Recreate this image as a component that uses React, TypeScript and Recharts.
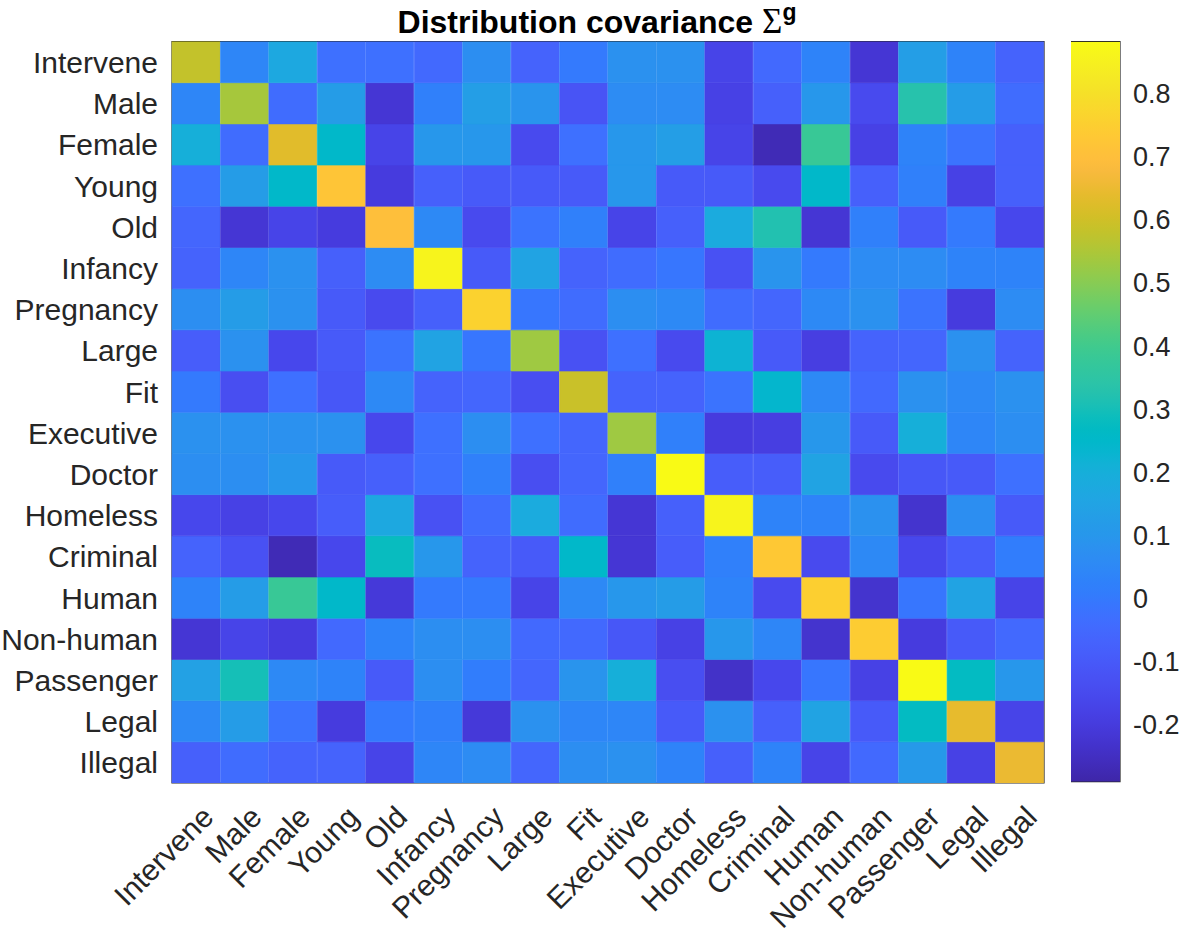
import React from 'react';
import { BarChart, Bar, XAxis, YAxis, Cell, ReferenceArea } from 'recharts';

const labels = ['Intervene', 'Male', 'Female', 'Young', 'Old', 'Infancy', 'Pregnancy', 'Large', 'Fit', 'Executive', 'Doctor', 'Homeless', 'Criminal', 'Human', 'Non-human', 'Passenger', 'Legal', 'Illegal'];

const rowIntervene = [0.58, 0.04, 0.17, -0.03, -0.03, -0.05, 0.07, -0.07, 0.0, 0.08, 0.08, -0.17, -0.05, 0.03, -0.22, 0.13, 0.03, -0.07];
const rowMale = [0.04, 0.54, -0.04, 0.12, -0.22, 0.02, 0.13, 0.09, -0.12, 0.06, 0.06, -0.18, -0.08, 0.1, -0.15, 0.33, 0.12, -0.04];
const rowFemale = [0.2, -0.04, 0.63, 0.25, -0.17, 0.1, 0.1, -0.15, -0.03, 0.1, 0.13, -0.17, -0.27, 0.38, -0.18, 0.03, -0.02, -0.08];
const rowYoung = [-0.03, 0.12, 0.25, 0.72, -0.2, -0.08, -0.1, -0.1, -0.1, 0.1, -0.1, -0.1, -0.15, 0.25, -0.08, 0.02, -0.18, -0.08];
const rowOld = [-0.06, -0.22, -0.17, -0.2, 0.7, 0.05, -0.15, -0.02, 0.02, -0.17, -0.08, 0.18, 0.32, -0.22, 0.02, -0.1, 0.0, -0.16];
const rowInfancy = [-0.07, 0.04, 0.08, -0.08, 0.06, 0.86, -0.1, 0.15, -0.07, -0.04, -0.01, -0.13, 0.09, 0.0, 0.06, 0.06, 0.03, 0.03];
const rowPregnancy = [0.07, 0.12, 0.08, -0.1, -0.15, -0.08, 0.76, -0.01, -0.04, 0.07, 0.05, -0.04, -0.06, 0.05, 0.08, -0.02, -0.2, 0.06];
const rowLarge = [-0.09, 0.08, -0.16, -0.1, -0.02, 0.15, -0.01, 0.53, -0.13, -0.03, -0.15, 0.22, -0.1, -0.19, -0.07, -0.06, 0.08, -0.07];
const rowFit = [0.0, -0.14, -0.03, -0.11, 0.05, -0.07, -0.06, -0.14, 0.59, -0.07, -0.07, -0.02, 0.24, 0.05, -0.05, 0.08, 0.05, 0.08];
const rowExecutive = [0.08, 0.08, 0.08, 0.08, -0.16, -0.03, 0.07, -0.03, -0.06, 0.53, 0.02, -0.2, -0.19, 0.1, -0.1, 0.2, 0.04, 0.07];
const rowDoctor = [0.07, 0.07, 0.1, -0.1, -0.08, -0.03, 0.02, -0.14, -0.06, 0.02, 0.88, -0.09, -0.09, 0.15, -0.15, -0.11, -0.1, -0.03];
const rowHomeless = [-0.16, -0.18, -0.16, -0.09, 0.17, -0.13, -0.04, 0.18, -0.04, -0.22, -0.08, 0.86, 0.03, 0.03, 0.08, -0.23, 0.07, -0.1];
const rowCriminal = [-0.07, -0.13, -0.27, -0.16, 0.28, 0.1, -0.07, -0.1, 0.25, -0.22, -0.09, 0.02, 0.73, -0.15, 0.05, -0.16, -0.09, 0.01];
const rowHuman = [0.03, 0.12, 0.38, 0.25, -0.21, 0.0, 0.0, -0.17, 0.05, 0.1, 0.12, 0.03, -0.15, 0.75, -0.23, -0.01, 0.15, -0.17];
const rowNonHuman = [-0.22, -0.17, -0.2, -0.05, 0.03, 0.07, 0.07, -0.05, -0.05, -0.11, -0.18, 0.1, 0.04, -0.23, 0.74, -0.2, -0.1, -0.05];
const rowPassenger = [0.14, 0.3, 0.05, 0.03, -0.1, 0.07, 0.01, -0.06, 0.09, 0.2, -0.14, -0.24, -0.16, -0.01, -0.18, 0.88, 0.27, 0.1];
const rowLegal = [0.05, 0.12, -0.02, -0.2, 0.0, 0.02, -0.21, 0.08, 0.04, 0.04, -0.1, 0.08, -0.08, 0.15, -0.1, 0.27, 0.64, -0.17];
const rowIllegal = [-0.08, -0.04, -0.07, -0.07, -0.17, 0.04, 0.06, -0.06, 0.07, 0.08, 0.03, -0.08, 0.03, -0.17, -0.05, 0.11, -0.18, 0.65];

const matrix = [rowIntervene, rowMale, rowFemale, rowYoung, rowOld, rowInfancy, rowPregnancy, rowLarge, rowFit, rowExecutive, rowDoctor, rowHomeless, rowCriminal, rowHuman, rowNonHuman, rowPassenger, rowLegal, rowIllegal];

const cbMin = -0.292;
const cbMax = 0.882;
const cbTicks = [-0.2, -0.1, 0, 0.1, 0.2, 0.3, 0.4, 0.5, 0.6, 0.7, 0.8];

const PARULA: number[][] = [
  [0.2422, 0.1504, 0.6603], [0.2504, 0.165, 0.7076], [0.2578, 0.1818, 0.7511], [0.2647, 0.1978, 0.7952],
  [0.2706, 0.2147, 0.8364], [0.2751, 0.2342, 0.871], [0.2783, 0.2559, 0.8991], [0.2803, 0.2782, 0.9221],
  [0.2813, 0.3006, 0.9414], [0.281, 0.3228, 0.9579], [0.2795, 0.3447, 0.9717], [0.276, 0.3667, 0.9829],
  [0.2699, 0.3892, 0.9906], [0.2602, 0.4123, 0.9952], [0.244, 0.4358, 0.9988], [0.2206, 0.4603, 0.9973],
  [0.1963, 0.4847, 0.9892], [0.1834, 0.5074, 0.9798], [0.1786, 0.5289, 0.9682], [0.1764, 0.5499, 0.952],
  [0.1687, 0.5703, 0.9359], [0.154, 0.5902, 0.9218], [0.146, 0.6091, 0.9079], [0.138, 0.6276, 0.8973],
  [0.1248, 0.6459, 0.8883], [0.1113, 0.6635, 0.8763], [0.0952, 0.6798, 0.8598], [0.0689, 0.6948, 0.8394],
  [0.0297, 0.7082, 0.8163], [0.0036, 0.7203, 0.7917], [0.0067, 0.7312, 0.766], [0.0433, 0.7411, 0.7394],
  [0.0964, 0.75, 0.712], [0.1408, 0.7584, 0.6842], [0.1717, 0.767, 0.6554], [0.1938, 0.7758, 0.6251],
  [0.2161, 0.7843, 0.5923], [0.247, 0.7918, 0.5567], [0.2906, 0.7973, 0.5188], [0.3406, 0.8008, 0.4789],
  [0.3909, 0.8029, 0.4354], [0.4456, 0.8024, 0.3909], [0.5044, 0.7993, 0.348], [0.5616, 0.7942, 0.3045],
  [0.6174, 0.7876, 0.2612], [0.672, 0.7793, 0.2227], [0.7242, 0.7698, 0.191], [0.7738, 0.7598, 0.1646],
  [0.8203, 0.7498, 0.1535], [0.8634, 0.7406, 0.1596], [0.9035, 0.733, 0.1774], [0.9393, 0.7288, 0.21],
  [0.9728, 0.7298, 0.2394], [0.9956, 0.7434, 0.2371], [0.997, 0.7659, 0.2199], [0.9952, 0.7893, 0.2028],
  [0.9892, 0.8136, 0.1885], [0.9786, 0.8386, 0.1766], [0.9676, 0.8639, 0.1643], [0.961, 0.889, 0.1537],
  [0.9597, 0.9135, 0.1423], [0.9628, 0.9373, 0.1265], [0.9691, 0.9606, 0.1064], [0.9769, 0.9839, 0.0805],
];

const toRgb = (c: number[]) => `rgb(${Math.round(c[0] * 255)},${Math.round(c[1] * 255)},${Math.round(c[2] * 255)})`;

function parula(v: number): string {
  let t = (v - cbMin) / (cbMax - cbMin);
  t = Math.max(0, Math.min(1, t));
  const f = t * (PARULA.length - 1);
  const i = Math.min(PARULA.length - 2, Math.floor(f));
  const w = f - i;
  const a = PARULA[i];
  const b = PARULA[i + 1];
  return toRgb([a[0] + (b[0] - a[0]) * w, a[1] + (b[1] - a[1]) * w, a[2] + (b[2] - a[2]) * w]);
}

const N = labels.length;
const heatData = labels.map((lab) => {
  const o: Record<string, any> = { name: lab };
  for (let k = 0; k < N; k++) o['r' + k] = 1;
  return o;
});
const yTicks = labels.map((_, i) => i + 0.5);
const cbData = [{ name: 'cb', range: [cbMin, cbMax] }];

const FONT = "'Liberation Sans', Arial, Helvetica, sans-serif";
const TXT = '#262626';

const YTick = (props: any) => {
  const { x, y, payload } = props;
  const lab = labels[N - 1 - Math.floor(payload.value)];
  return (
    <text x={x} y={y} dx={-6} dy={11} textAnchor="end" fontSize={30} fontFamily={FONT} fill={TXT}>
      {lab}
    </text>
  );
};

const XTick = (props: any) => {
  const { x, y, payload } = props;
  return (
    <g transform={`translate(${x + 19},${y + 28})`}>
      <text x={0} y={0} textAnchor="end" transform="rotate(-45)" fontSize={30} fontFamily={FONT} fill={TXT}>
        {payload.value}
      </text>
    </g>
  );
};

const CbTick = (props: any) => {
  const { x, y, payload } = props;
  return (
    <text x={x} y={y} dx={5} dy={10} textAnchor="start" fontSize={27} fontFamily={FONT} fill={TXT}>
      {String(Math.round(payload.value * 10) / 10)}
    </text>
  );
};

export default function App() {
  return (
    <div style={{ position: 'absolute', left: 0, top: 0, width: 1179, height: 931, background: '#fff' }}>
      <svg style={{ position: 'absolute', left: 0, top: 0 }} width={1179} height={45}>
        <text x={597} y={33.3} textAnchor="middle" fontSize={32} fontWeight="bold" fontFamily={FONT} fill="#000">
          Distribution covariance{' '}
          <tspan fontFamily="'Liberation Serif', 'DejaVu Serif', serif" fontWeight="normal" fontSize={35}>Σ</tspan>
          <tspan dy={-13} fontSize={23}>g</tspan>
        </text>
      </svg>
      <div style={{ position: 'absolute', left: 0, top: 0 }}>
        <BarChart
          width={1179}
          height={931}
          data={heatData}
          margin={{ top: 41.5, right: 135, bottom: 0, left: 0 }}
          barCategoryGap={0}
          barGap={0}
        >
          <XAxis
            dataKey="name"
            type="category"
            height={148}
            interval={0}
            tickLine={false}
            axisLine={false}
            tick={<XTick />}
          />
          <YAxis
            type="number"
            domain={[0, N]}
            ticks={yTicks}
            interval={0}
            width={172}
            tickLine={false}
            axisLine={false}
            tick={<YTick />}
            allowDataOverflow
          />
          {Array.from({ length: N }, (_, k) => (
            <Bar key={k} dataKey={'r' + k} stackId="s" isAnimationActive={false}>
              {heatData.map((_, j) => {
                const c = parula(matrix[N - 1 - k][j]);
                return <Cell key={j} fill={c} stroke={c} strokeWidth={0.6} />;
              })}
            </Bar>
          ))}
          <ReferenceArea y1={0} y2={N} fill="none" stroke="#262626" strokeWidth={1.2} ifOverflow="visible" />
        </BarChart>
      </div>
      <div style={{ position: 'absolute', left: 1071, top: 0 }}>
        <BarChart
          width={108}
          height={931}
          data={cbData}
          margin={{ top: 41.7, right: 0, bottom: 149.3, left: 0 }}
          barCategoryGap={0}
        >
          <defs>
            <linearGradient id="parulaGrad" x1="0" y1="1" x2="0" y2="0">
              {PARULA.map((c, i) => (
                <stop key={i} offset={i / (PARULA.length - 1)} stopColor={toRgb(c)} />
              ))}
            </linearGradient>
          </defs>
          <XAxis dataKey="name" hide />
          <YAxis
            orientation="right"
            type="number"
            domain={[cbMin, cbMax]}
            ticks={cbTicks}
            interval={0}
            width={59}
            tickLine={false}
            axisLine={false}
            tick={<CbTick />}
            allowDataOverflow
          />
          <Bar dataKey="range" fill="url(#parulaGrad)" isAnimationActive={false} />
          <ReferenceArea y1={cbMin} y2={cbMax} fill="none" stroke="#262626" strokeWidth={1.2} ifOverflow="visible" />
        </BarChart>
      </div>
    </div>
  );
}
